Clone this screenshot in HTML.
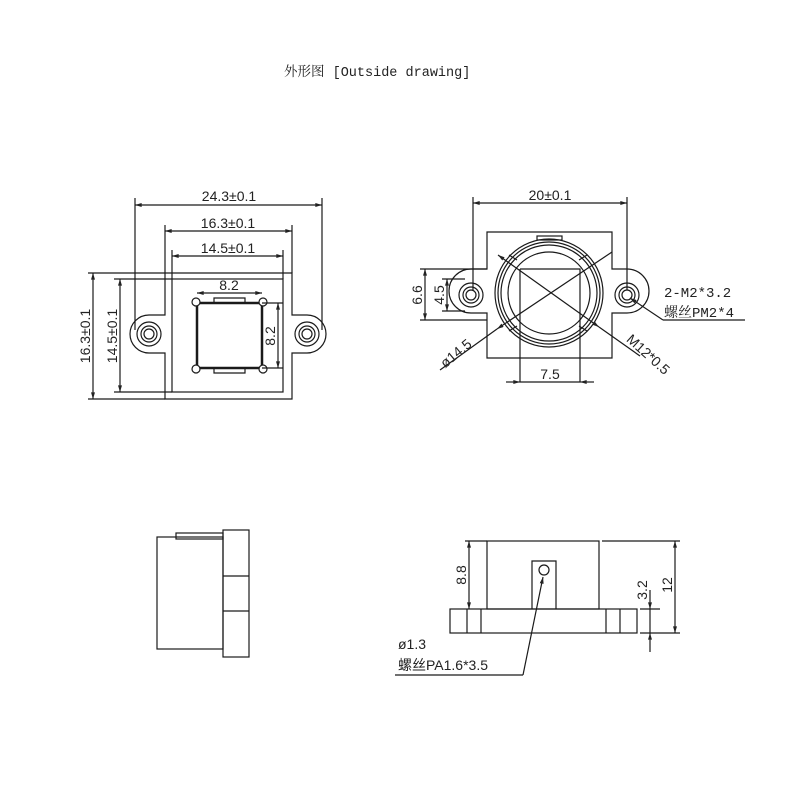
<!DOCTYPE html>
<html><head><meta charset="utf-8"><style>
html,body{margin:0;padding:0;background:#fff;}
svg{display:block}
text{font-family:"Liberation Sans","Noto Sans CJK SC",sans-serif;fill:#222;}
</style></head><body>
<svg width="790" height="790" viewBox="0 0 790 790" xmlns="http://www.w3.org/2000/svg">
<defs>
<marker id="a" viewBox="0 0 10 6" refX="10" refY="3" markerWidth="8" markerHeight="4" orient="auto-start-reverse" markerUnits="userSpaceOnUse"><path d="M0,0 L10,3 L0,6 z" fill="#222"/></marker>
</defs>
<text x="284" y="76" style="font-family:'Liberation Mono','Noto Serif CJK SC',serif;font-size:13.5px">外形图 [Outside drawing]</text>

<g stroke="#1a1a1a" stroke-width="1.2" fill="none">
<!-- ===== top-left view ===== -->
<path d="M165,273 H292 V315 H307 A19,19 0 0 1 307,353 H292 V399 H165 V353 H149 A19,19 0 0 1 149,315 H165 Z"/>
<circle cx="149" cy="334" r="12"/><circle cx="149" cy="334" r="8"/><circle cx="149" cy="334" r="5"/>
<circle cx="307" cy="334" r="12"/><circle cx="307" cy="334" r="8"/><circle cx="307" cy="334" r="5"/>
<rect x="172" y="279" width="111" height="113"/>
<rect x="197" y="303" width="65" height="65" stroke-width="2.5"/>
<path d="M214,303 V298 H245 V303 M214,368 V373 H245 V368"/>
<circle cx="196" cy="302" r="4" fill="#fff"/><circle cx="263" cy="302" r="4" fill="#fff"/>
<circle cx="196" cy="369" r="4" fill="#fff"/><circle cx="263" cy="369" r="4" fill="#fff"/>
<path d="M135,198 V330 M322,198 V330 M165,225 V273 M292,225 V273 M172,250 V279 M283,250 V279"/>
<line x1="135" y1="205" x2="322" y2="205" marker-start="url(#a)" marker-end="url(#a)"/>
<line x1="165" y1="231" x2="292" y2="231" marker-start="url(#a)" marker-end="url(#a)"/>
<line x1="172" y1="256" x2="283" y2="256" marker-start="url(#a)" marker-end="url(#a)"/>
<path d="M88,273 H165 M88,399 H165 M114,279 H172 M114,392 H172"/>
<line x1="93" y1="273" x2="93" y2="399" marker-start="url(#a)" marker-end="url(#a)"/>
<line x1="120" y1="279" x2="120" y2="392" marker-start="url(#a)" marker-end="url(#a)"/>
<line x1="197" y1="293" x2="262" y2="293" marker-start="url(#a)" marker-end="url(#a)"/>
<path d="M262,303 H283 M262,368 H283"/>
<line x1="278" y1="303" x2="278" y2="368" marker-start="url(#a)" marker-end="url(#a)"/>

<!-- ===== top-right view ===== -->
<path d="M487,232 H612 V269 H627 A22,22 0 0 1 627,313 H612 V358 H487 V313 H471 A22,22 0 0 1 471,269 H487 Z"/>
<circle cx="471" cy="295" r="12"/><circle cx="471" cy="295" r="8"/><circle cx="471" cy="295" r="5"/>
<circle cx="627" cy="295" r="12"/><circle cx="627" cy="295" r="8"/><circle cx="627" cy="295" r="5"/>
<rect x="537" y="236" width="25" height="4"/>
<circle cx="549" cy="293" r="54"/><circle cx="549" cy="293" r="51"/><circle cx="549" cy="293" r="48"/><circle cx="549" cy="293" r="41"/>
<path d="M520,269 H580 V382 M520,269 V382"/>
<path d="M509,255 l8,5 M587,255 l-8,5 M509,331 l8,-5 M587,331 l-8,-5"/>
<line x1="498" y1="255" x2="599" y2="327" marker-end="url(#a)" marker-start="url(#a)"/>
<path d="M599,327 L640,356"/>
<line x1="497" y1="329" x2="612" y2="252" marker-start="url(#a)"/>
<path d="M497,329 L440,370"/>
<path d="M473,197 V290 M627,197 V290"/>
<line x1="473" y1="203" x2="627" y2="203" marker-start="url(#a)" marker-end="url(#a)"/>
<path d="M420,269 H487 M420,320 H487 M442,279 H465 M442,311 H465"/>
<line x1="425" y1="269" x2="425" y2="320" marker-start="url(#a)" marker-end="url(#a)"/>
<line x1="447" y1="279" x2="447" y2="311" marker-start="url(#a)" marker-end="url(#a)"/>
<line x1="506" y1="382" x2="520" y2="382" marker-end="url(#a)"/>
<line x1="594" y1="382" x2="580" y2="382" marker-end="url(#a)"/>
<path d="M520,382 H580"/>
<line x1="663" y1="320" x2="630" y2="298" marker-end="url(#a)"/>
<path d="M663,320 H745"/>

<!-- ===== bottom-left view ===== -->
<rect x="157" y="537" width="66" height="112"/>
<rect x="176" y="533" width="47" height="6"/>
<rect x="223" y="530" width="26" height="127"/>
<path d="M223,576 H249 M223,611 H249"/>

<!-- ===== bottom-right view ===== -->
<rect x="487" y="541" width="112" height="68"/>
<rect x="450" y="609" width="187" height="24"/>
<path d="M467,609 V633 M481,609 V633 M606,609 V633 M620,609 V633"/>
<path d="M532,609 V561 H556 V609"/>
<circle cx="544" cy="570" r="5"/>
<path d="M465,541 H487 M602,541 H680 M640,633 H680 M640,609 H660"/>
<line x1="469" y1="541" x2="469" y2="609" marker-start="url(#a)" marker-end="url(#a)"/>
<line x1="675" y1="541" x2="675" y2="633" marker-start="url(#a)" marker-end="url(#a)"/>
<line x1="650" y1="590" x2="650" y2="609" marker-end="url(#a)"/>
<line x1="650" y1="652" x2="650" y2="633" marker-end="url(#a)"/>
<path d="M650,609 V633"/>
<line x1="523" y1="675" x2="543" y2="577" marker-end="url(#a)"/>
<path d="M523,675 H395"/>
</g>

<!-- labels -->
<g font-size="14" text-anchor="middle">
<text x="229" y="201">24.3±0.1</text>
<text x="228" y="228">16.3±0.1</text>
<text x="228" y="253">14.5±0.1</text>
<text x="229" y="290">8.2</text>
<text transform="translate(275,336) rotate(-90)">8.2</text>
<text transform="translate(90,336) rotate(-90)">16.3±0.1</text>
<text transform="translate(117,336) rotate(-90)">14.5±0.1</text>
<text x="550" y="200">20±0.1</text>
<text transform="translate(422,295) rotate(-90)">6.6</text>
<text transform="translate(444,295) rotate(-90)">4.5</text>
<text x="550" y="379">7.5</text>
<text transform="translate(459,357) rotate(-40)">ø14.5</text>
<text transform="translate(645,358) rotate(42)">M12*0.5</text>
<text transform="translate(466,575) rotate(-90)">8.8</text>
<text transform="translate(647,590) rotate(-90)">3.2</text>
<text transform="translate(672,585) rotate(-90)">12</text>
</g>
<g font-size="14">
<text x="664" y="297" style="font-family:'Liberation Mono','Noto Serif CJK SC',monospace">2-M2*3.2</text>
<text x="664" y="317" style="font-family:'Liberation Mono','Noto Serif CJK SC',monospace">螺丝PM2*4</text>
<text x="398" y="649">ø1.3</text>
<text x="398" y="670">螺丝PA1.6*3.5</text>
</g>
</svg>
</body></html>
